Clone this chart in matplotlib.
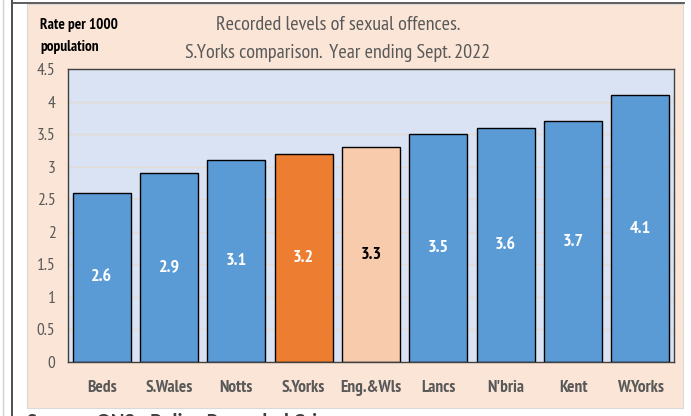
import matplotlib.pyplot as plt
from matplotlib.patches import Rectangle
from matplotlib.lines import Line2D

plt.rcParams['font.family'] = ['PT Sans Narrow', 'Carlito', 'DejaVu Sans']

# data
areas = ['Beds', 'S.Wales', 'Notts', 'S.Yorks', 'Eng.&Wls', 'Lancs', "N'bria", 'Kent', 'W.Yorks']
rates = [2.6, 2.9, 3.1, 3.2, 3.3, 3.5, 3.6, 3.7, 4.1]
colors = ['#5B9BD5', '#5B9BD5', '#5B9BD5', '#ED7D31', '#F8CBAD',
          '#5B9BD5', '#5B9BD5', '#5B9BD5', '#5B9BD5']
label_colors = ['white', 'white', 'white', 'white', 'black',
                'white', 'white', 'white', 'white']
yticks = [0, 0.5, 1, 1.5, 2, 2.5, 3, 3.5, 4, 4.5]

fig = plt.figure(figsize=(6.91, 4.16), dpi=100)
fig.patch.set_facecolor('white')

# peach chart background
fig.patches.append(Rectangle((0.039, 0.019), 0.949, 0.971, transform=fig.transFigure,
                             facecolor='#FBE5D6', edgecolor='#D9D9D9', lw=0.8, zorder=0))
# document border lines
fig.add_artist(Line2D([0.0175, 0.0175], [0, 1], transform=fig.transFigure, color='#404040', lw=1.3))
fig.add_artist(Line2D([0.004, 0.004], [0, 1], transform=fig.transFigure, color='#D0D0D0', lw=1.0))
fig.add_artist(Line2D([0.0175, 0.99], [0.992, 0.992], transform=fig.transFigure, color='#505050', lw=1.3))

ax = fig.add_axes([0.0984, 0.1298, 0.877, 0.7043])
ax.set_zorder(2)
ax.set_facecolor('#DAE3F3')
ax.set_axisbelow(True)

x = range(len(areas))
bars = ax.bar(x, rates, width=0.86, color=colors, edgecolor='black', linewidth=1.0)

for i, b in enumerate(bars):
    ax.text(b.get_x() + b.get_width() / 2, rates[i] / 2, f'{rates[i]:.1f}',
            ha='center', va='center', fontsize=13, color=label_colors[i],
            fontweight='bold')

ax.set_xlim(-0.5, len(areas) - 0.5)
ax.set_ylim(0, 4.5)
ax.set_yticks(yticks)
ax.set_yticklabels([f'{v:g}' for v in yticks])
ax.set_xticks(list(x))
ax.set_xticklabels(areas, fontweight='bold')
ax.tick_params(axis='both', length=0, labelsize=12.5, colors='#595959')
ax.tick_params(axis='x', pad=13)
ax.tick_params(axis='y', pad=9)
ax.yaxis.grid(True, color='#E4DCD4', lw=1.0)

for s in ax.spines.values():
    s.set_color('#404040')
    s.set_linewidth(1.0)

fig.text(0.489, 0.94, 'Recorded levels of sexual offences.', ha='center', va='center',
         fontsize=14.5, color='#595959')
fig.text(0.489, 0.873, 'S.Yorks comparison.  Year ending Sept. 2022', ha='center', va='center',
         fontsize=14.5, color='#595959')
fig.text(0.058, 0.94, 'Rate per 1000', ha='left', va='center', fontsize=11, fontweight='bold', color='black')
fig.text(0.058, 0.887, 'population', ha='left', va='center', fontsize=11, fontweight='bold', color='black')

# cut-off source line of the page below the chart
fig.text(0.039, -0.013, 'Source: ONS - Police Recorded Crime', ha='left', va='center',
         fontsize=15, fontweight='bold', color='#404040', family=['Carlito', 'DejaVu Sans'])

fig.savefig('out.png', dpi=100)
